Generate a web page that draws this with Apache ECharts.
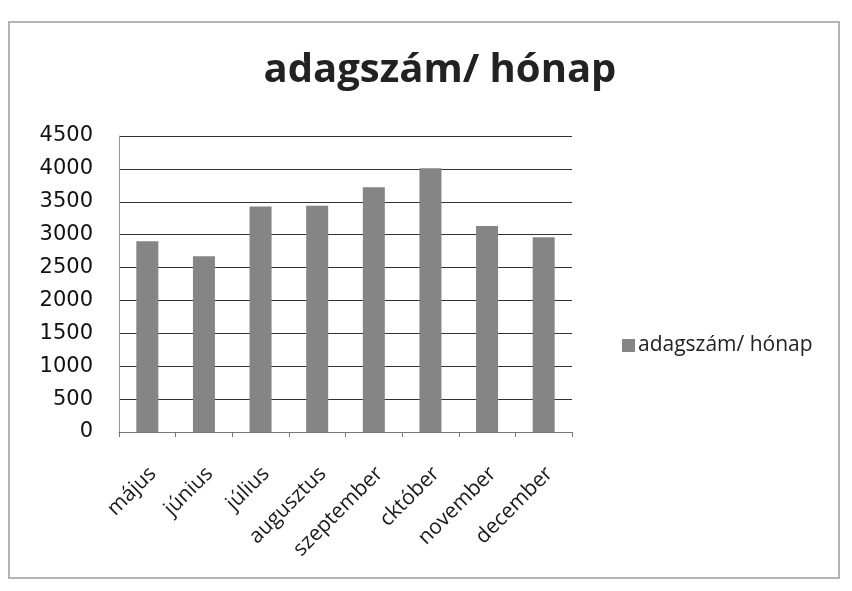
<!DOCTYPE html>
<html>
<head>
<meta charset="utf-8">
<script src="https://cdn.jsdelivr.net/npm/echarts@6/dist/echarts.min.js"></script>
<style>
  html, body { margin: 0; padding: 0; background: #fff; }
  #main { width: 852px; height: 591px; }
</style>
</head>
<body>
<div id="main"></div>
<script>
// 数据
var months = ['május', 'június', 'július', 'augusztus', 'szeptember', 'cktóber', 'november', 'december'];
var adagszam = [2900, 2670, 3430, 3440, 3720, 4010, 3130, 2960];
var seriesName = 'adagszám/ hónap';

var myChart = echarts.init(document.getElementById('main'));

var option = {
	backgroundColor: '#fff',
	graphic: [{
		type: 'rect',
		shape: { x: 9, y: 22, width: 830, height: 556 },
		style: { fill: 'none', stroke: '#9a9a9a', lineWidth: 1.5 },
		silent: true
	}],
	title: {
		text: 'adagszám/ hónap',
		left: 435,
		top: 46,
		textAlign: 'center',
		textStyle: { fontFamily: 'Open Sans', fontWeight: 'bold', fontSize: 40, color: '#222' }
	},
	legend: {
		left: 617,
		top: 330,
		itemWidth: 13,
		itemHeight: 13,
		itemGap: 4,
		icon: 'rect',
		textStyle: { fontFamily: 'Open Sans', fontSize: 21, color: '#222', padding: [0, 0, 0, -2] },
		data: [seriesName]
	},
	grid: { left: 119, right: 280, top: 136, bottom: 159 },
	xAxis: {
		type: 'category',
		data: months,
		axisLine: { lineStyle: { color: '#777' } },
		axisTick: { show: true, lineStyle: { color: '#777' } },
		axisLabel: {
			rotate: 45,
			margin: 44,
			interval: 0,
			fontFamily: 'Open Sans',
			fontSize: 21,
			color: '#1a1a1a',
			padding: [0, -8, 0, 0]
		}
	},
	yAxis: {
		type: 'value',
		min: 0,
		max: 4500,
		interval: 500,
		axisLine: { show: true, lineStyle: { color: '#999' } },
		axisTick: { show: false },
		axisLabel: {
			margin: 26,
			fontFamily: 'DejaVu Sans',
			fontSize: 21,
			color: '#111',
			formatter: function (v) { return String(v); }
		},
		splitLine: { lineStyle: { color: '#333', width: 1.2 } }
	},
	series: [{
		name: seriesName,
		type: 'bar',
		data: adagszam,
		barWidth: 22,
		itemStyle: { color: '#858585' }
	}]
};

myChart.setOption(option);
</script>
</body>
</html>
